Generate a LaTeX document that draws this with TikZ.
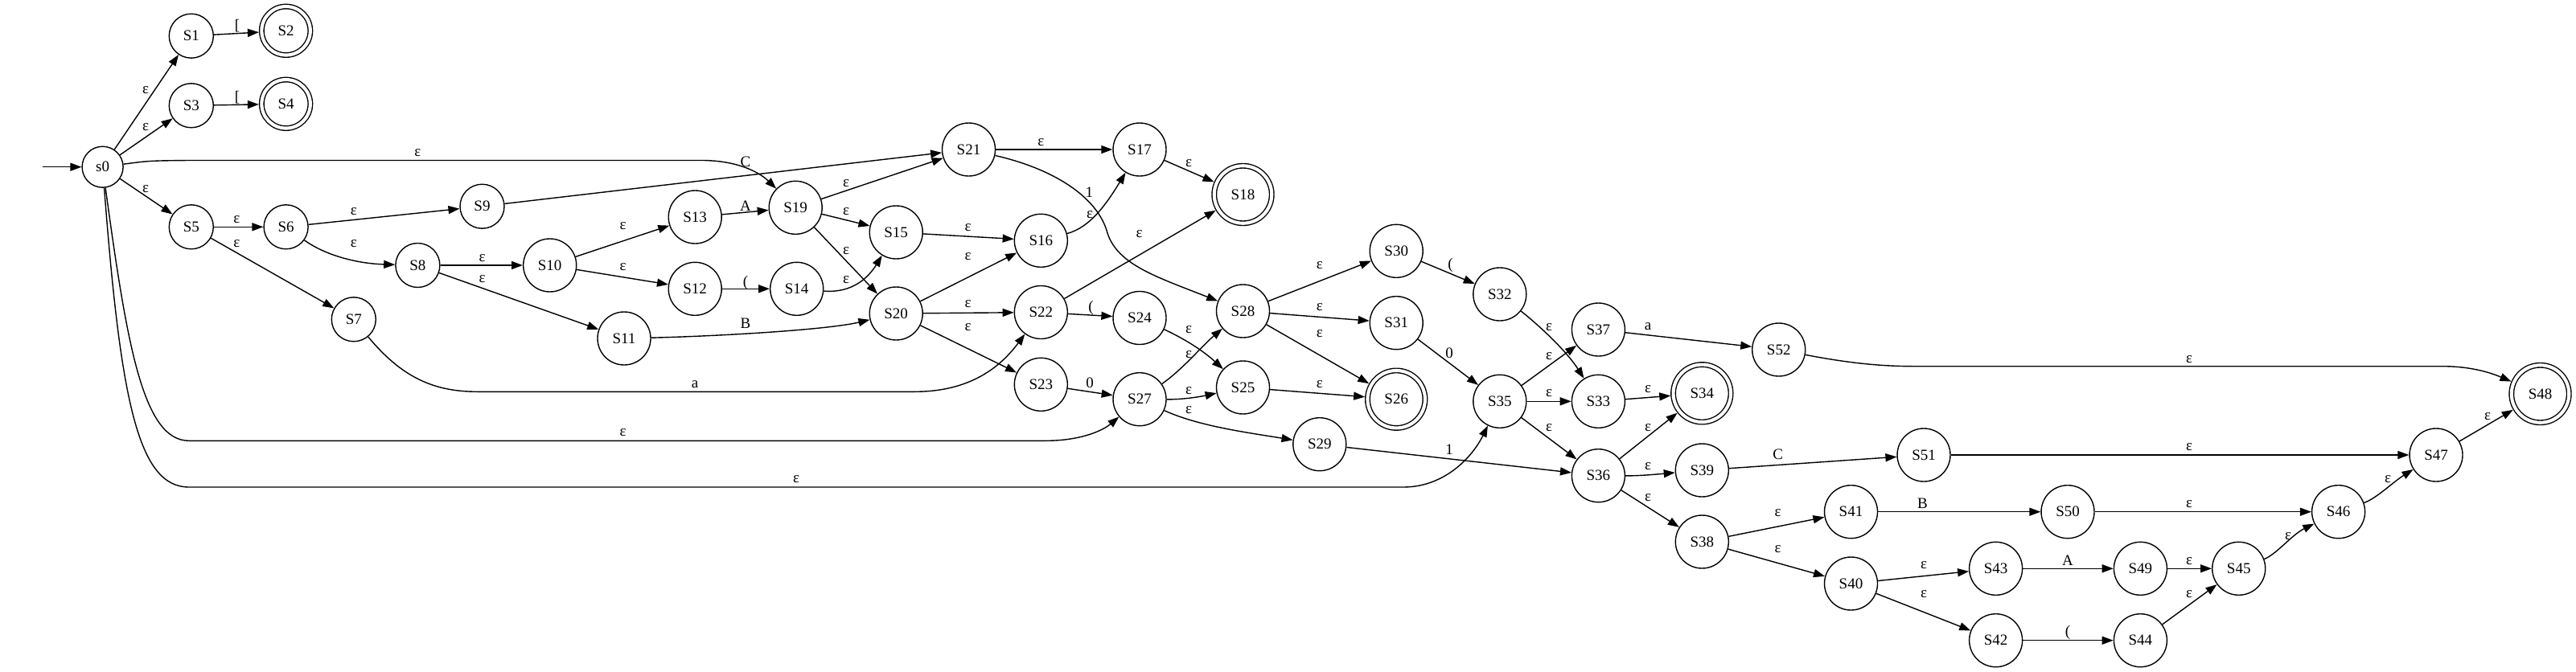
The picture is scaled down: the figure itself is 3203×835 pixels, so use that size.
\documentclass[tikz,border=0pt]{standalone}
\usepackage{fontspec}
\setmainfont{Liberation Serif}
\usetikzlibrary{arrows.meta}
\begin{document}
\begin{tikzpicture}[x=1pt,y=-1pt,
  st/.style={circle, draw, line width=1.4pt, minimum size=66pt, inner sep=0pt, font=\fontsize{19}{19}\selectfont},
  sm/.style={st, minimum size=55pt},
  acc/.style={st, double, double distance=4.1pt, minimum size=71.5pt, outer sep=3.45pt},
  accsm/.style={acc, minimum size=60.5pt},
  tr/.style={draw, line width=1.4pt, -{Triangle[length=14pt,width=10pt]}},
  lb/.style={inner sep=0pt, font=\fontsize{19}{19}\selectfont}]
\useasboundingbox (0,0) rectangle (3203,835);
% nodes
\coordinate (start) at (53,207.7);
\node[st, minimum size=51pt] (s0) at (127.6,207.7) {s0};
\node[sm] (S1) at (237.8,44.7) {S1};
\node[accsm] (S2) at (355.6,38.3) {S2};
\node[sm] (S3) at (237.8,131.3) {S3};
\node[accsm] (S4) at (355.6,129.3) {S4};
\node[sm] (S5) at (237.8,282.3) {S5};
\node[sm] (S6) at (355.6,282.3) {S6};
\node[sm] (S7) at (439.8,397.3) {S7};
\node[sm] (S8) at (519.4,330) {S8};
\node[sm] (S9) at (599.5,256.7) {S9};
\node[st] (S10) at (683.7,330) {S10};
\node[st] (S11) at (776,421) {S11};
\node[st] (S12) at (864.2,359.3) {S12};
\node[st] (S13) at (864.2,270) {S13};
\node[st] (S14) at (990.7,359.3) {S14};
\node[st] (S15) at (1114.2,289) {S15};
\node[st] (S16) at (1294.3,299.3) {S16};
\node[st] (S17) at (1417,186) {S17};
\node[acc] (S18) at (1545.5,242) {S18};
\node[st] (S19) at (989.2,258.3) {S19};
\node[st] (S20) at (1114.2,390) {S20};
\node[st] (S21) at (1204.5,186) {S21};
\node[st] (S22) at (1294.3,388.5) {S22};
\node[st] (S23) at (1294.3,478.3) {S23};
\node[st] (S24) at (1417,395.5) {S24};
\node[st] (S25) at (1545.5,482) {S25};
\node[acc] (S26) at (1736.2,496.7) {S26};
\node[st] (S27) at (1417,496.7) {S27};
\node[st] (S28) at (1545.5,387) {S28};
\node[st] (S29) at (1640.8,552.7) {S29};
\node[st] (S30) at (1736.2,312.3) {S30};
\node[st] (S31) at (1736.2,401.7) {S31};
\node[st] (S32) at (1864.8,366) {S32};
\node[st] (S33) at (1987.4,499.3) {S33};
\node[acc] (S34) at (2116.3,489.3) {S34};
\node[st] (S35) at (1864.8,499.3) {S35};
\node[st] (S36) at (1987.4,591.7) {S36};
\node[st] (S37) at (1987.4,410) {S37};
\node[st] (S38) at (2116.3,674) {S38};
\node[st] (S39) at (2116.3,585) {S39};
\node[st] (S40) at (2301.5,726) {S40};
\node[st] (S41) at (2301.5,636.7) {S41};
\node[st] (S42) at (2481.6,796.7) {S42};
\node[st] (S43) at (2481.6,707.3) {S43};
\node[st] (S44) at (2661.4,796.7) {S44};
\node[st] (S45) at (2783.7,707.3) {S45};
\node[st] (S46) at (2907.6,636.7) {S46};
\node[st] (S47) at (3029,566) {S47};
\node[acc] (S48) at (3158.5,490) {S48};
\node[st] (S49) at (2661.4,707.3) {S49};
\node[st] (S50) at (2571,636.7) {S50};
\node[st] (S51) at (2392,566) {S51};
\node[st] (S52) at (2211.7,435) {S52};
% edges
\draw[tr] (start) -- (s0);
\draw[tr] (s0) -- (S1);
\draw[tr] (s0) -- (S3);
\draw[tr] (s0) .. controls (185,200) .. (235,199.5) -- (872,199.5) .. controls (918,199.5) and (945,215) .. (S19);
\draw[tr] (s0) -- (S5);
\draw[tr] (s0) .. controls (158,430) and (178,548.3) .. (235,548.3) -- (1300,548.3) .. controls (1345,548.3) and (1372,535) .. (S27);
\draw[tr] (s0) .. controls (150,500) and (172,606) .. (235,606) -- (1745,606) .. controls (1795,606) and (1830,570) .. (S35);
\draw[tr] (S1) -- (S2);
\draw[tr] (S3) -- (S4);
\draw[tr] (S5) -- (S6);
\draw[tr] (S5) -- (S7);
\draw[tr] (S6) -- (S9);
\draw[tr] (S6) .. controls (405,318) and (445,328) .. (S8);
\draw[tr] (S8) -- (S10);
\draw[tr] (S8) -- (S11);
\draw[tr] (S10) -- (S13);
\draw[tr] (S10) -- (S12);
\draw[tr] (S9) -- (S21);
\draw[tr] (S7) .. controls (500,470) and (540,487.3) .. (594,487.3) -- (1137,487.3) .. controls (1200,487.3) and (1240,462) .. (S22);
\draw[tr] (S13) -- (S19);
\draw[tr] (S12) -- (S14);
\draw[tr] (S11) .. controls (900,418) and (1030,410) .. (S20);
\draw[tr] (S19) -- (S21);
\draw[tr] (S19) -- (S15);
\draw[tr] (S19) -- (S20);
\draw[tr] (S14) .. controls (1060,365) and (1080,345) .. (S15);
\draw[tr] (S15) -- (S16);
\draw[tr] (S20) -- (S16);
\draw[tr] (S20) -- (S22);
\draw[tr] (S20) -- (S23);
\draw[tr] (S21) -- (S17);
\draw[tr] (S21) .. controls (1310,210) and (1365,245) .. (1377,290) .. controls (1390,330) and (1440,345) .. (S28);
\draw[tr] (S16) .. controls (1355,283) and (1375,255) .. (S17);
\draw[tr] (S17) -- (S18);
\draw[tr] (S22) -- (S18);
\draw[tr] (S22) -- (S24);
\draw[tr] (S23) -- (S27);
\draw[tr] (S24) .. controls (1480,425) and (1500,440) .. (S25);
\draw[tr] (S27) .. controls (1470,460) and (1495,430) .. (S28);
\draw[tr] (S27) .. controls (1470,497) and (1490,494) .. (S25);
\draw[tr] (S27) .. controls (1490,530) and (1550,538) .. (S29);
\draw[tr] (S28) -- (S30);
\draw[tr] (S28) -- (S31);
\draw[tr] (S28) -- (S26);
\draw[tr] (S25) -- (S26);
\draw[tr] (S29) -- (S36);
\draw[tr] (S30) -- (S32);
\draw[tr] (S31) -- (S35);
\draw[tr] (S32) .. controls (1920,410) and (1950,440) .. (S33);
\draw[tr] (S35) -- (S37);
\draw[tr] (S35) -- (S33);
\draw[tr] (S35) -- (S36);
\draw[tr] (S37) -- (S52);
\draw[tr] (S33) -- (S34);
\draw[tr] (S36) -- (S34);
\draw[tr] (S36) .. controls (2040,592) and (2060,590) .. (S39);
\draw[tr] (S36) -- (S38);
\draw[tr] (S39) -- (S51);
\draw[tr] (S38) -- (S41);
\draw[tr] (S38) -- (S40);
\draw[tr] (S52) .. controls (2300,452) and (2340,455.7) .. (2380,455.7) -- (3037,455.7) .. controls (3075,455.7) and (3100,465) .. (S48);
\draw[tr] (S51) -- (S47);
\draw[tr] (S41) -- (S50);
\draw[tr] (S50) -- (S46);
\draw[tr] (S40) -- (S43);
\draw[tr] (S40) -- (S42);
\draw[tr] (S43) -- (S49);
\draw[tr] (S49) -- (S45);
\draw[tr] (S42) -- (S44);
\draw[tr] (S44) -- (S45);
\draw[tr] (S45) .. controls (2830,690) and (2850,665) .. (S46);
\draw[tr] (S46) .. controls (2955,620) and (2975,600) .. (S47);
\draw[tr] (S47) -- (S48);
% labels
\node[lb] (l1) at (181,111.7) {ε};
\node[lb] (l2) at (181,158.3) {ε};
\node[lb] (l3) at (519.4,190) {ε};
\node[lb] (l4) at (181,235) {ε};
\node[lb] (l5) at (774.5,538.3) {ε};
\node[lb] (l6) at (990,596.5) {ε};
\node[lb] (l7) at (295,31.7) {[};
\node[lb] (l8) at (295,120.7) {[};
\node[lb] (l9) at (294.4,272.7) {ε};
\node[lb] (l10) at (294.4,303.3) {ε};
\node[lb] (l11) at (439.8,262.7) {ε};
\node[lb] (l12) at (439.8,303.3) {ε};
\node[lb] (l13) at (599.5,320.7) {ε};
\node[lb] (l14) at (599.5,346.7) {ε};
\node[lb] (l15) at (774.5,280.7) {ε};
\node[lb] (l16) at (774.5,331.7) {ε};
\node[lb] (l17) at (927,201.7) {C};
\node[lb] (l18) at (864,477.7) {a};
\node[lb] (l19) at (927,256) {A};
\node[lb] (l20) at (927,351.7) {(};
\node[lb] (l21) at (927,402.7) {B};
\node[lb] (l22) at (1052,227.7) {ε};
\node[lb] (l23) at (1052,263.3) {ε};
\node[lb] (l24) at (1052,311.7) {ε};
\node[lb] (l25) at (1052,348.3) {ε};
\node[lb] (l26) at (1203.5,283.3) {ε};
\node[lb] (l27) at (1203.5,319.3) {ε};
\node[lb] (l28) at (1203.5,378.3) {ε};
\node[lb] (l29) at (1203.5,407.3) {ε};
\node[lb] (l30) at (1294.3,176.7) {ε};
\node[lb] (l31) at (1354.3,239.3) {1};
\node[lb] (l32) at (1355,267.3) {ε};
\node[lb] (l33) at (1478,202.7) {ε};
\node[lb] (l34) at (1416.7,290.7) {ε};
\node[lb] (l35) at (1356.5,383.3) {(};
\node[lb] (l36) at (1478,410) {ε};
\node[lb] (l37) at (1478,440.7) {ε};
\node[lb] (l38) at (1478,486) {ε};
\node[lb] (l39) at (1478,510) {ε};
\node[lb] (l40) at (1355,476) {0};
\node[lb] (l41) at (1640.8,330) {ε};
\node[lb] (l42) at (1640.8,382.3) {ε};
\node[lb] (l43) at (1640.8,415) {ε};
\node[lb] (l44) at (1640.8,478.3) {ε};
\node[lb] (l45) at (1803.6,330) {(};
\node[lb] (l46) at (1802,439.3) {0};
\node[lb] (l47) at (1802,559.3) {1};
\node[lb] (l48) at (1926,406.7) {ε};
\node[lb] (l49) at (1926,442.7) {ε};
\node[lb] (l50) at (1926,489.3) {ε};
\node[lb] (l51) at (1926,531.7) {ε};
\node[lb] (l52) at (2049,406) {a};
\node[lb] (l53) at (2049,484.3) {ε};
\node[lb] (l54) at (2049,531.7) {ε};
\node[lb] (l55) at (2049,580) {ε};
\node[lb] (l56) at (2049,619.3) {ε};
\node[lb] (l57) at (2210.7,638.3) {ε};
\node[lb] (l58) at (2210.7,682.7) {ε};
\node[lb] (l59) at (2210.7,565) {C};
\node[lb] (l60) at (2722,446.7) {ε};
\node[lb] (l61) at (2722,556) {ε};
\node[lb] (l62) at (2390.4,626.7) {B};
\node[lb] (l63) at (2722,627.3) {ε};
\node[lb] (l64) at (2392,703.3) {ε};
\node[lb] (l65) at (2392,739.3) {ε};
\node[lb] (l66) at (2571,697.3) {A};
\node[lb] (l67) at (2722,698.3) {ε};
\node[lb] (l68) at (2571,786.7) {(};
\node[lb] (l69) at (2722,739.3) {ε};
\node[lb] (l70) at (2845,667.3) {ε};
\node[lb] (l71) at (2969,595.7) {ε};
\node[lb] (l72) at (3093,518.3) {ε};
\end{tikzpicture}
\end{document}
